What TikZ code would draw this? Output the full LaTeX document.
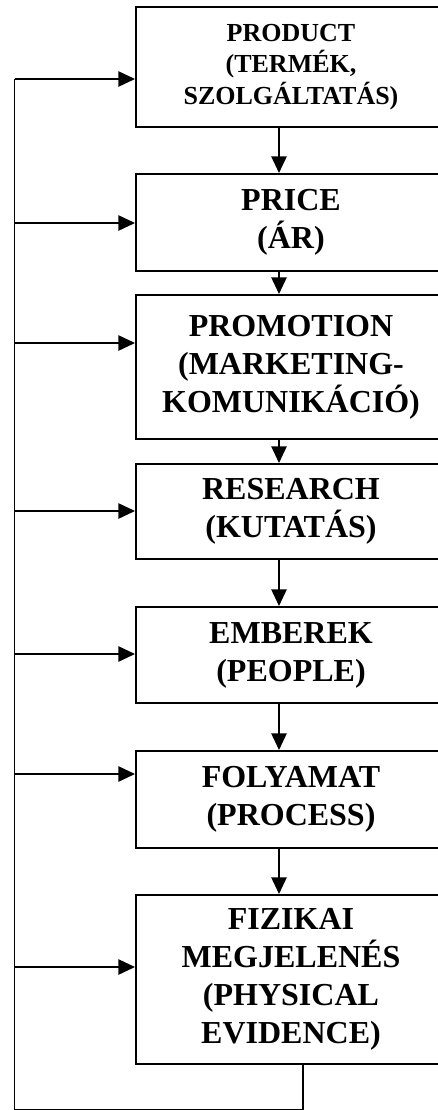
\documentclass[tikz,border=0pt]{standalone}
\usepackage{fontspec}
\setmainfont{Liberation Serif}
\usetikzlibrary{arrows.meta}
\begin{document}
\begin{tikzpicture}[x=0.75pt,y=-0.75pt,
  mixbox/.style={draw,line width=1.5pt,anchor=north west,inner sep=0pt,
    minimum width=232.5pt,align=center,
    font=\fontsize{24}{28.5}\selectfont\bfseries},
  smallbox/.style={mixbox,font=\fontsize{19.5}{23.5}\selectfont\bfseries},
  conn/.style={line width=1.2pt},
  arr/.style={conn,-{Triangle[length=12.5pt,width=11.5pt]}}]
\useasboundingbox (0,0) rectangle (438,1110);
\node[smallbox,minimum height=90pt] (prod) at (135,6) {PRODUCT\\(TERMÉK,\\SZOLGÁLTATÁS)};
\node[mixbox,minimum height=72.75pt] (price) at (135,173) {PRICE\\(ÁR)};
\node[mixbox,minimum height=108pt] (promo) at (135,294) {PROMOTION\\(MARKETING-\\KOMUNIKÁCIÓ)};
\node[mixbox,minimum height=71.25pt] (res) at (135,463) {RESEARCH\\(KUTATÁS)};
\node[mixbox,minimum height=72pt] (emb) at (135,606) {EMBEREK\\(PEOPLE)};
\node[mixbox,minimum height=72.75pt] (foly) at (135,750) {FOLYAMAT\\(PROCESS)};
\node[mixbox,minimum height=126.75pt] (fiz) at (135,894) {FIZIKAI\\MEGJELENÉS\\(PHYSICAL\\EVIDENCE)};
% vertical chain
\coordinate (ax) at (279,0);
\draw[arr] (ax |- prod.south) -- (ax |- price.north);
\draw[arr] (ax |- price.south) -- (ax |- promo.north);
\draw[arr] (ax |- promo.south) -- (ax |- res.north);
\draw[arr] (ax |- res.south) -- (ax |- emb.north);
\draw[arr] (ax |- emb.south) -- (ax |- foly.north);
\draw[arr] (ax |- foly.south) -- (ax |- fiz.north);
% feedback loop
\coordinate (bx) at (303,0);
\coordinate (lb) at (14.5,1110);
\coordinate (a1) at (14.5,79);
\coordinate (a2) at (14.5,223);
\coordinate (a3) at (14.5,343);
\coordinate (a4) at (14.5,511);
\coordinate (a5) at (14.5,654);
\coordinate (a6) at (14.5,774);
\coordinate (a7) at (14.5,967);
\draw[conn] (bx |- fiz.south) -- (bx |- lb) -- (lb) -- (a1);
\draw[arr] (a1) -- (a1 -| prod.west);
\draw[arr] (a2) -- (a2 -| price.west);
\draw[arr] (a3) -- (a3 -| promo.west);
\draw[arr] (a4) -- (a4 -| res.west);
\draw[arr] (a5) -- (a5 -| emb.west);
\draw[arr] (a6) -- (a6 -| foly.west);
\draw[arr] (a7) -- (a7 -| fiz.west);
\end{tikzpicture}
\end{document}
